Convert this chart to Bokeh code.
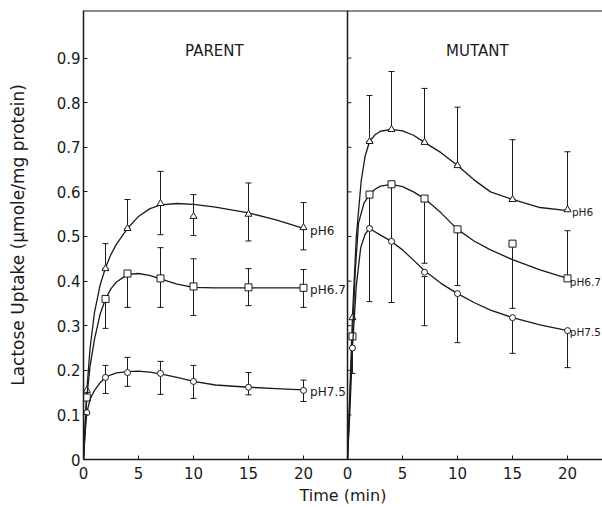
import numpy as np
from bokeh.plotting import figure
from bokeh.models import FixedTicker, Span
from bokeh.embed import file_html
from bokeh.resources import INLINE
from bokeh.core.properties import value

NaN = float("nan")

# ---------------- data ----------------
panel_names = ["PARENT", "MUTANT"]
ph_names = ["pH6", "pH6.7", "pH7.5"]

parent_times = [0.3, 2, 4, 7, 10, 15, 20]
mutant_times = [0.45, 2, 4, 7, 10, 15, 20]

# PARENT measured points and error bars (umole/mg protein)
parent_ph6 = [0.155, 0.428, 0.518, 0.574, 0.545, 0.550, 0.520]
parent_ph6_lo = [NaN, 0.428, 0.518, 0.504, 0.502, 0.490, 0.470]
parent_ph6_hi = [NaN, 0.484, 0.583, 0.646, 0.594, 0.620, 0.576]

parent_ph67 = [0.139, 0.360, 0.417, 0.406, 0.388, 0.386, 0.385]
parent_ph67_lo = [NaN, 0.294, 0.341, 0.341, 0.323, 0.345, 0.341]
parent_ph67_hi = [NaN, 0.360, 0.417, 0.475, 0.450, 0.428, 0.426]

parent_ph75 = [0.105, 0.184, 0.195, 0.193, 0.175, 0.162, 0.155]
parent_ph75_lo = [NaN, 0.148, 0.164, 0.146, 0.137, 0.145, 0.130]
parent_ph75_hi = [NaN, 0.211, 0.229, 0.220, 0.211, 0.195, 0.178]

# MUTANT measured points and error bars
mutant_ph6 = [0.318, 0.713, 0.740, 0.711, 0.659, 0.583, 0.560]
mutant_ph6_lo = [NaN, 0.713, 0.740, 0.711, 0.659, 0.583, 0.560]
mutant_ph6_hi = [NaN, 0.816, 0.870, 0.832, 0.790, 0.717, 0.690]

mutant_ph67 = [0.276, 0.594, 0.617, 0.585, 0.516, 0.484, 0.406]
mutant_ph67_lo = [NaN, 0.520, 0.490, 0.440, 0.390, 0.339, 0.406]
mutant_ph67_hi = [NaN, 0.594, 0.617, 0.585, 0.516, 0.484, 0.513]

mutant_ph75 = [0.250, 0.518, 0.489, 0.420, 0.372, 0.318, 0.289]
mutant_ph75_lo = [0.193, 0.354, 0.352, 0.300, 0.262, 0.238, 0.206]
mutant_ph75_hi = [0.250, 0.518, 0.489, 0.410, 0.372, 0.318, 0.289]

# fitted curves
parent_curve_times = [0, 0.15, 0.3, 0.6, 1.0, 1.5, 2, 2.5, 3, 4, 5, 6, 7, 8.5, 10, 12, 15, 17.5, 20]
parent_ph6_curve = [0, 0.08, 0.155, 0.25, 0.33, 0.39, 0.43, 0.46, 0.483, 0.518, 0.545,
                    0.562, 0.571, 0.574, 0.572, 0.566, 0.553, 0.537, 0.518]
parent_ph67_curve = [0, 0.07, 0.139, 0.21, 0.27, 0.325, 0.36, 0.383, 0.398, 0.415, 0.417,
                     0.413, 0.405, 0.393, 0.386, 0.385, 0.385, 0.385, 0.385]
parent_ph75_curve = [0, 0.06, 0.105, 0.135, 0.155, 0.172, 0.184, 0.19, 0.194, 0.197, 0.198,
                     0.196, 0.192, 0.184, 0.175, 0.167, 0.162, 0.159, 0.156]

mutant_ph6_curve_times = [0, 0.2, 0.45, 0.8, 1.25, 1.6, 2, 2.5, 3, 4, 5, 6, 7, 8.5, 10,
                          11.5, 13, 15, 17.5, 20]
mutant_ph6_curve = [0, 0.14, 0.32, 0.5, 0.626, 0.68, 0.713, 0.728, 0.736, 0.74, 0.737,
                    0.727, 0.711, 0.688, 0.659, 0.627, 0.6, 0.583, 0.565, 0.558]
mutant_ph67_curve_times = [0, 0.2, 0.45, 0.7, 1.0, 1.5, 2, 2.5, 3, 4, 5, 6, 7, 8.5, 10,
                           11.5, 13, 15, 17.5, 20]
mutant_ph67_curve = [0, 0.13, 0.276, 0.42, 0.53, 0.575, 0.594, 0.606, 0.613, 0.617, 0.612,
                     0.6, 0.585, 0.553, 0.516, 0.49, 0.47, 0.448, 0.425, 0.406]
mutant_ph75_curve_times = [0, 0.2, 0.45, 0.8, 1.2, 1.6, 2, 3, 4, 5, 6, 7, 8.5, 10,
                           11.5, 13, 15, 17.5, 20]
mutant_ph75_curve = [0, 0.1, 0.25, 0.39, 0.475, 0.505, 0.518, 0.503, 0.489, 0.47, 0.447,
                     0.423, 0.395, 0.372, 0.352, 0.335, 0.318, 0.302, 0.289]

x_tick_values = [0, 5, 10, 15, 20]
x_tick_labels = ["0", "5", "10", "15", "20"]
y_tick_values = [0, 0.1, 0.2, 0.3, 0.4, 0.5, 0.6, 0.7, 0.8, 0.9]
y_tick_labels = ["0", "0.1", "0.2", "0.3", "0.4", "0.5", "0.6", "0.7", "0.8", "0.9"]

# ---------------- layout constants ----------------
MUTANT_OFFSET = 24.0   # the mutant panel starts 24 axis units to the right
FONT = "DejaVu Sans"
INK = "#1a1a1a"

p = figure(width=602, height=507, x_range=(0, 47.18), y_range=(0, 1.0067),
           output_backend="svg", toolbar_location=None,
           min_border_left=83, min_border_right=0, min_border_top=10, min_border_bottom=48)
p.outline_line_color = None
p.xgrid.visible = False
p.ygrid.visible = False
p.background_fill_color = "white"
p.border_fill_color = "white"

# axes
xt = x_tick_values + [v + MUTANT_OFFSET for v in x_tick_values]
p.xaxis.ticker = FixedTicker(ticks=xt)
p.xaxis.major_label_overrides = {t: l for t, l in zip(xt, x_tick_labels + x_tick_labels)}
p.yaxis.ticker = FixedTicker(ticks=y_tick_values)
p.yaxis.major_label_overrides = dict(zip(y_tick_values, y_tick_labels))
for ax in (p.xaxis[0], p.yaxis[0]):
    ax.axis_line_color = INK
    ax.axis_line_width = 1.5
    ax.major_tick_in = 4
    ax.major_tick_out = 0
    ax.minor_tick_in = 0
    ax.minor_tick_out = 0
    ax.major_tick_line_color = INK
    ax.major_label_text_font = FONT
    ax.major_label_text_font_size = "15px"
    ax.major_label_text_color = INK
    ax.axis_label_text_font = FONT
    ax.axis_label_text_font_style = "normal"
    ax.axis_label_text_color = INK
p.xaxis.axis_label = "Time (min)"
p.xaxis.axis_label_text_font_size = "16px"
p.xaxis.major_label_standoff = 7
p.xaxis.axis_label_standoff = 4
p.yaxis.axis_label = "Lactose Uptake (\u03bcmole/mg protein)"
p.yaxis.axis_label_text_font_size = "17px"
p.yaxis.major_label_standoff = 3
p.yaxis.axis_label_standoff = 26

# top border and panel divider
p.add_layout(Span(location=1.0067, dimension="width", line_color=INK, line_width=2))
p.add_layout(Span(location=MUTANT_OFFSET, dimension="height", line_color=INK, line_width=1.5))
p.segment(x0=[MUTANT_OFFSET] * 9, x1=[MUTANT_OFFSET + 0.35] * 9,
          y0=y_tick_values[1:], y1=y_tick_values[1:], line_color=INK, line_width=1)

markers = {"pH6": ("triangle", 7), "pH6.7": ("square", 7), "pH7.5": ("circle", 6)}

def draw_series(times, vals, lo, hi, ctimes, curve, marker, offset):
    t = np.array(times, dtype=float) + offset
    lo = np.array(lo, dtype=float)
    hi = np.array(hi, dtype=float)
    ok = ~np.isnan(lo)
    p.segment(x0=t[ok], x1=t[ok], y0=lo[ok], y1=hi[ok], line_color=INK, line_width=1)
    p.scatter(t[ok], lo[ok], marker="dash", size=6, line_color=INK, line_width=1)
    p.scatter(t[ok], hi[ok], marker="dash", size=6, line_color=INK, line_width=1)
    ct = np.array(ctimes, dtype=float) + offset
    p.line(ct, curve, line_color=INK, line_width=1.3)
    m, s = markers[marker]
    p.scatter(t, vals, marker=m, size=s, fill_color="white", line_color=INK, line_width=1)

draw_series(parent_times, parent_ph6, parent_ph6_lo, parent_ph6_hi,
            parent_curve_times, parent_ph6_curve, "pH6", 0)
draw_series(parent_times, parent_ph67, parent_ph67_lo, parent_ph67_hi,
            parent_curve_times, parent_ph67_curve, "pH6.7", 0)
draw_series(parent_times, parent_ph75, parent_ph75_lo, parent_ph75_hi,
            parent_curve_times, parent_ph75_curve, "pH7.5", 0)
draw_series(mutant_times, mutant_ph6, mutant_ph6_lo, mutant_ph6_hi,
            mutant_ph6_curve_times, mutant_ph6_curve, "pH6", MUTANT_OFFSET)
draw_series(mutant_times, mutant_ph67, mutant_ph67_lo, mutant_ph67_hi,
            mutant_ph67_curve_times, mutant_ph67_curve, "pH6.7", MUTANT_OFFSET)
draw_series(mutant_times, mutant_ph75, mutant_ph75_lo, mutant_ph75_hi,
            mutant_ph75_curve_times, mutant_ph75_curve, "pH7.5", MUTANT_OFFSET)

# panel titles
p.text(x=[11.9, 11.8 + MUTANT_OFFSET], y=[0.917, 0.917], text=panel_names,
       text_font=value(FONT), text_font_size="15px", text_align="center",
       text_baseline="middle", text_color=INK)

# series labels at the curve ends
p.text(x=[20.6, 20.6, 20.6], y=[0.513, 0.381, 0.152], text=ph_names,
       text_font=value(FONT), text_font_size="12px", text_align="left",
       text_baseline="middle", text_color=INK)
p.text(x=[20.4 + MUTANT_OFFSET, 20.2 + MUTANT_OFFSET, 20.2 + MUTANT_OFFSET],
       y=[0.554, 0.399, 0.285], text=ph_names,
       text_font=value(FONT), text_font_size="10.5px", text_align="left",
       text_baseline="middle", text_color=INK)

open("out.html", "w").write(file_html(p, INLINE))
